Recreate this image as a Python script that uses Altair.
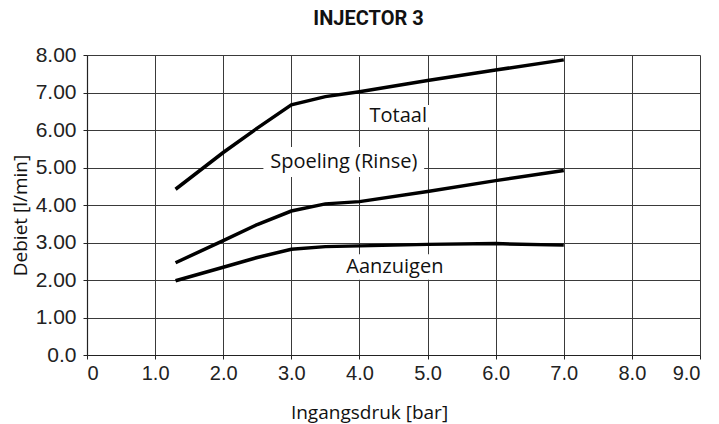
import altair as alt
import pandas as pd

# --- data ---
pressure = [1.3, 2.0, 2.5, 3.0, 3.5, 4.0, 5.0, 6.0, 7.0]
totaal = [4.42, 5.40, 6.05, 6.67, 6.89, 7.02, 7.32, 7.60, 7.87]
spoeling = [2.46, 3.05, 3.48, 3.84, 4.03, 4.09, 4.36, 4.65, 4.92]
aanzuigen = [1.98, 2.34, 2.60, 2.82, 2.89, 2.91, 2.95, 2.97, 2.93]

label_text = ["Totaal", "Spoeling (Rinse)", "Aanzuigen"]
label_x = [4.57, 3.77, 4.52]
label_y = [6.37, 5.15, 2.35]
label_halfw = [0.47, 1.18, 0.74]
label_halfh = [0.30, 0.40, 0.34]

rows = []
for name, vals in [("Totaal", totaal), ("Spoeling", spoeling), ("Aanzuigen", aanzuigen)]:
    for p, v in zip(pressure, vals):
        rows.append({"series": name, "p": p, "q": v})
df = pd.DataFrame(rows)

lab = pd.DataFrame({
    "text": label_text, "x": label_x, "y": label_y,
    "hw": label_halfw, "hh": label_halfh,
})

xscale = alt.Scale(domain=[0, 9], nice=False, zero=True)
yscale = alt.Scale(domain=[0, 8], nice=False, zero=True)

xaxis = alt.Axis(
    title="Ingangsdruk [bar]", values=list(range(10)),
    labelExpr="datum.value == 0 ? '0' : format(datum.value, '.1f')",
    labelFont="Liberation Sans", labelFontSize=20, labelColor="#222",
    labelPadding=4, tickSize=4, tickColor="#222", labelOverlap=False,
    titleFont="Open Sans", titleFontSize=19, titleFontWeight="normal",
    titleColor="#111", titleX=282, titleY=63, titleAlign="center",
    titleBaseline="alphabetic", titleAnchor="start",
    grid=True, gridColor="#3a3a3a", gridWidth=1,
    domainColor="#222", domainWidth=1.2,
)
yaxis = alt.Axis(
    title="Debiet [l/min]", values=list(range(9)),
    labelExpr="datum.value == 0 ? '0.0' : format(datum.value, '.2f')",
    labelFont="Liberation Sans", labelFontSize=21, labelColor="#222",
    labelPadding=7, tickSize=4, tickColor="#222", labelOverlap=False,
    titleFont="Open Sans", titleFontSize=19, titleFontWeight="normal",
    titleColor="#111", titleX=-61, titleY=160, titleAlign="center",
    titleBaseline="alphabetic", titleAngle=270, titleAnchor="start",
    grid=True, gridColor="#3a3a3a", gridWidth=1,
    domainColor="#222", domainWidth=1.2,
)

lines = alt.Chart(df).mark_line(strokeWidth=3.5, color="black", strokeCap="butt").encode(
    x=alt.X("p:Q", scale=xscale, axis=xaxis),
    y=alt.Y("q:Q", scale=yscale, axis=yaxis),
    detail="series:N",
)

boxes = alt.Chart(lab).transform_calculate(
    x1="datum.x - datum.hw", x2="datum.x + datum.hw",
    y1="datum.y - datum.hh", y2="datum.y + datum.hh",
).mark_rect(color="white").encode(
    x=alt.X("x1:Q", scale=xscale, axis=xaxis), x2="x2:Q",
    y=alt.Y("y1:Q", scale=yscale, axis=yaxis), y2="y2:Q",
)

texts = alt.Chart(lab).mark_text(
    font="Open Sans", fontSize=20, color="#111", align="center", baseline="middle"
).encode(
    x=alt.X("x:Q", scale=xscale, axis=xaxis),
    y=alt.Y("y:Q", scale=yscale, axis=yaxis),
    text="text:N",
)

chart = alt.layer(boxes, lines, texts).properties(
    width=613, height=300,
    title=alt.TitleParams(
        "INJECTOR 3", font="Roboto", fontSize=20, fontWeight="bold",
        color="#111", anchor="middle", dx=-25, offset=15,
    ),
    autosize=alt.AutoSizeParams(type="none"),
    padding={"left": 79, "top": 47, "right": 11, "bottom": 69},
).configure_view(stroke=None)

chart.save("out.html", embed_options={"renderer": "svg", "actions": False})
